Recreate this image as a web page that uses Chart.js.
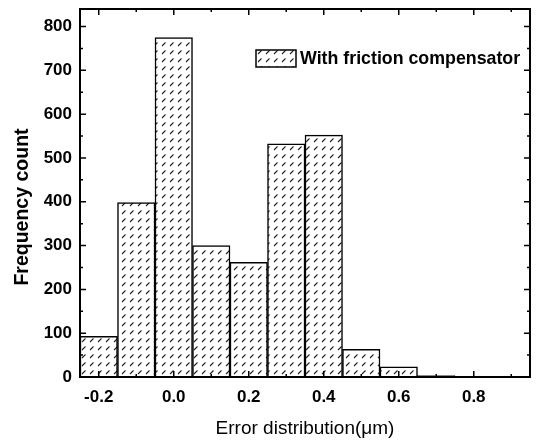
<!DOCTYPE html>
<html>
<head>
<meta charset="utf-8">
<script src="https://cdn.jsdelivr.net/npm/chart.js@4.4.1/dist/chart.umd.min.js"></script>
<style>
html,body{margin:0;padding:0;background:#fff;}
#wrap{width:537px;height:443px;position:relative;}
</style>
</head>
<body>
<div id="wrap"><canvas id="c" width="537" height="443"></canvas></div>
<script>
const binCenters = [-0.2, -0.1, 0.0, 0.1, 0.2, 0.3, 0.4, 0.5, 0.6, 0.7, 0.8, 0.9];
const counts = [93, 398, 775, 300, 262, 532, 552, 63, 23, 3, 1, 1];
const xTicks = [-0.2, 0.0, 0.2, 0.4, 0.6, 0.8];
const xMinorTicks = [-0.1, 0.1, 0.3, 0.5, 0.7, 0.9];
const yTicks = [0, 100, 200, 300, 400, 500, 600, 700, 800];
const yMinorTicks = [50, 150, 250, 350, 450, 550, 650, 750];
const seriesLabel = 'With friction compensator';
const xTitle = 'Error distribution(\u03bcm)';
const yTitle = 'Frequency count';

function makePattern() {
  const s = 8;
  const c = document.createElement('canvas');
  c.width = s; c.height = s;
  const g = c.getContext('2d');
  g.fillStyle = '#fff';
  g.fillRect(0, 0, s, s);
  g.strokeStyle = '#222';
  g.lineWidth = 1.1;
  g.beginPath();
  g.moveTo(2, 6);
  g.lineTo(5.5, 2.5);
  g.stroke();
  return g.createPattern(c, 'repeat');
}
const hatch = makePattern();

const FONT = "'Liberation Sans', Arial, sans-serif";

const framePlugin = {
  id: 'frame',
  afterDraw(chart) {
    const {ctx, chartArea: a} = chart;
    const xs = chart.scales.x, ys = chart.scales.y;
    ctx.save();
    ctx.strokeStyle = '#000';
    ctx.lineWidth = 2;
    ctx.strokeRect(a.left, a.top, a.right - a.left, a.bottom - a.top);
    // inward ticks
    ctx.lineWidth = 1.5;
    ctx.beginPath();
    xTicks.forEach(v => { const p = xs.getPixelForValue(v); ctx.moveTo(p, a.bottom); ctx.lineTo(p, a.bottom - 6); ctx.moveTo(p, a.top); ctx.lineTo(p, a.top + 6); });
    xMinorTicks.forEach(v => { const p = xs.getPixelForValue(v); ctx.moveTo(p, a.bottom); ctx.lineTo(p, a.bottom - 3); ctx.moveTo(p, a.top); ctx.lineTo(p, a.top + 3); });
    yTicks.forEach(v => { const p = ys.getPixelForValue(v); ctx.moveTo(a.left, p); ctx.lineTo(a.left + 6, p); ctx.moveTo(a.right, p); ctx.lineTo(a.right - 6, p); });
    yMinorTicks.forEach(v => { const p = ys.getPixelForValue(v); ctx.moveTo(a.left, p); ctx.lineTo(a.left + 3, p); ctx.moveTo(a.right, p); ctx.lineTo(a.right - 3, p); });
    ctx.stroke();
    // legend
    const bx = 256, by = 50, bw = 40, bh = 17;
    ctx.fillStyle = hatch;
    ctx.fillRect(bx, by, bw, bh);
    ctx.lineWidth = 1.5;
    ctx.strokeRect(bx, by, bw, bh);
    ctx.fillStyle = '#000';
    ctx.font = "bold 17.8px " + FONT;
    ctx.textBaseline = 'middle';
    ctx.textAlign = 'left';
    ctx.fillText(seriesLabel, bx + bw + 4, by + bh / 2 + 1);
    // y title
    ctx.translate(23, 207);
    ctx.rotate(-Math.PI / 2);
    ctx.textAlign = 'center';
    ctx.font = "bold 19.5px " + FONT;
    ctx.fillText(yTitle, 0, 0);
    ctx.restore();
  }
};

new Chart(document.getElementById('c'), {
  type: 'bar',
  data: {
    datasets: [{
      label: seriesLabel,
      data: binCenters.map((x, i) => ({x: x, y: counts[i]})),
      backgroundColor: hatch,
      borderColor: '#000',
      borderWidth: 1.5,
      barPercentage: 1,
      categoryPercentage: 1
    }]
  },
  options: {
    responsive: false,
    animation: false,
    devicePixelRatio: 1,
    layout: {padding: {top: 9, right: 7, left: 8, bottom: 1}},
    plugins: {legend: {display: false}, tooltip: {enabled: false}},
    scales: {
      x: {
        type: 'linear',
        min: -0.25, max: 0.95,
        offset: false,
        afterBuildTicks: s => { s.ticks = xTicks.map(v => ({value: v})); },
        afterFit: s => { s.height = 65; s.paddingLeft = 0; s.paddingRight = 0; },
        grid: {drawOnChartArea: false, drawTicks: false},
        border: {color: '#000', width: 2},
        ticks: {
          color: '#000', font: {family: FONT, size: 17, weight: 'bold'},
          maxRotation: 0, padding: 10,
          callback: v => Number(v).toFixed(1)
        },
        title: {display: true, text: xTitle, color: '#000', font: {family: FONT, size: 19}, padding: {top: 4, bottom: 2}}
      },
      y: {
        min: 0, max: 840,
        afterBuildTicks: s => { s.ticks = yTicks.map(v => ({value: v})); },
        afterFit: s => { s.width = 72; s.paddingTop = 0; s.paddingBottom = 0; },
        grid: {drawOnChartArea: false, drawTicks: false},
        border: {color: '#000', width: 2},
        ticks: {color: '#000', font: {family: FONT, size: 17, weight: 'bold'}, padding: 8},
        title: {display: false, text: yTitle}
      }
    }
  },
  plugins: [framePlugin]
});
</script>
</body>
</html>
